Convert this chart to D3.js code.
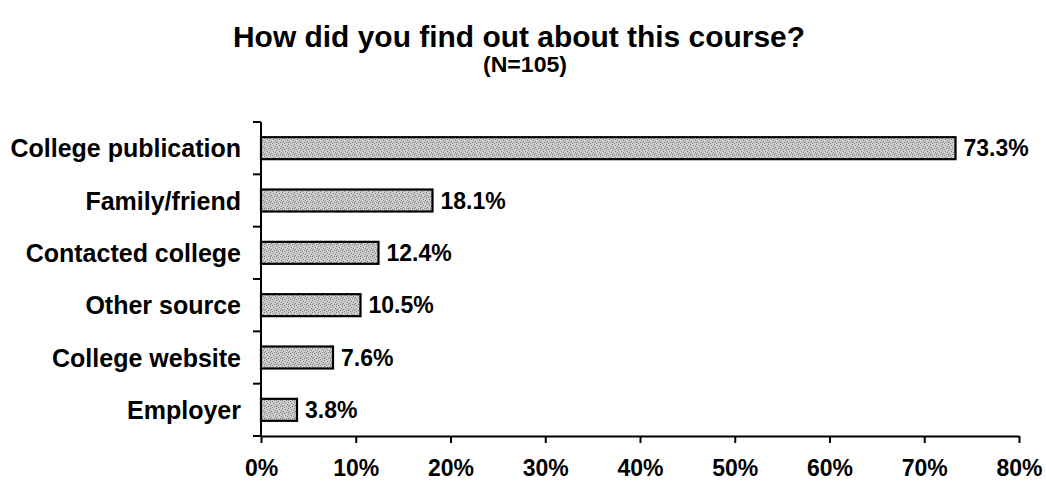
<!DOCTYPE html>
<html>
<head>
<meta charset="utf-8">
<script src="https://cdn.jsdelivr.net/npm/d3@7"></script>
<style>
  html, body { margin: 0; padding: 0; background: #fff; }
  svg { display: block; }
  text { font-family: "Liberation Sans", Arial, sans-serif; font-weight: bold; fill: #000; }
</style>
</head>
<body>
<svg id="chart" width="1046" height="483"></svg>
<script>
const categories = ["College publication", "Family/friend", "Contacted college", "Other source", "College website", "Employer"];
const values = [73.3, 18.1, 12.4, 10.5, 7.6, 3.8];
const valueLabels = ["73.3%", "18.1%", "12.4%", "10.5%", "7.6%", "3.8%"];
const tickValues = [0, 10, 20, 30, 40, 50, 60, 70, 80];
const tickLabels = ["0%", "10%", "20%", "30%", "40%", "50%", "60%", "70%", "80%"];
const titleText = "How did you find out about this course?";
const subtitleText = "(N=105)";

const svg = d3.select("#chart");
const plot = { left: 261, right: 1019, top: 122, bottom: 436 };

// stipple pattern for bars
const defs = svg.append("defs");
const pat = defs.append("pattern")
  .attr("id", "stipple").attr("patternUnits", "userSpaceOnUse")
  .attr("width", 6).attr("height", 6);
pat.append("rect").attr("width", 6).attr("height", 6).attr("fill", "#cdcdcd");
const dots = [[0,0],[3,1],[1,3],[4,4],[5,2],[2,5],[0,4]];
pat.selectAll("rect.d").data(dots).enter().append("rect")
  .attr("class", "d").attr("x", d => d[0]).attr("y", d => d[1])
  .attr("width", 1).attr("height", 1).attr("fill", "#7e7e7e");

const x = d3.scaleLinear().domain([0, 80]).range([plot.left, plot.right]);
const y = d3.scaleBand().domain(categories).range([plot.top, plot.bottom])
  .paddingInner(0.58).paddingOuter(0.29);

// title
svg.append("text").attr("x", 519).attr("y", 47).attr("text-anchor", "middle")
  .attr("font-size", 29).attr("textLength", 572).attr("lengthAdjust", "spacingAndGlyphs")
  .text(titleText);
svg.append("text").attr("x", 525).attr("y", 72).attr("text-anchor", "middle")
  .attr("font-size", 22).attr("textLength", 84).attr("lengthAdjust", "spacingAndGlyphs")
  .text(subtitleText);

// bars
svg.selectAll("rect.bar").data(categories).enter().append("rect")
  .attr("class", "bar")
  .attr("x", x(0))
  .attr("y", d => y(d))
  .attr("width", (d, i) => x(values[i]) - x(0))
  .attr("height", y.bandwidth())
  .attr("fill", "url(#stipple)")
  .attr("stroke", "#000").attr("stroke-width", 2.2);

// value labels
svg.selectAll("text.val").data(categories).enter().append("text")
  .attr("class", "val")
  .attr("x", (d, i) => x(values[i]) + 8)
  .attr("y", d => y(d) + y.bandwidth() / 2)
  .attr("dy", "0.36em")
  .attr("font-size", 23)
  .text((d, i) => valueLabels[i]);

// category labels
svg.selectAll("text.cat").data(categories).enter().append("text")
  .attr("class", "cat")
  .attr("x", 241)
  .attr("y", d => y(d) + y.bandwidth() / 2)
  .attr("dy", "0.36em")
  .attr("text-anchor", "end")
  .attr("font-size", 25)
  .text(d => d);

// y axis line and boundary ticks
const boundaries = d3.range(categories.length + 1).map(i => plot.top + i * y.step());
svg.append("line").attr("x1", plot.left).attr("x2", plot.left)
  .attr("y1", plot.top).attr("y2", plot.bottom)
  .attr("stroke", "#000").attr("stroke-width", 2);
svg.selectAll("line.yt").data(boundaries).enter().append("line")
  .attr("class", "yt")
  .attr("x1", 253).attr("x2", plot.left)
  .attr("y1", d => d).attr("y2", d => d)
  .attr("stroke", "#000").attr("stroke-width", 2);

// x axis
const xAxis = d3.axisBottom(x).tickValues(tickValues)
  .tickSize(7).tickSizeOuter(0)
  .tickFormat((d, i) => tickLabels[i]);
const gx = svg.append("g").attr("transform", `translate(0,${plot.bottom})`).call(xAxis);
gx.select(".domain").attr("stroke", "#000").attr("stroke-width", 2);
gx.selectAll(".tick line").attr("stroke", "#000").attr("stroke-width", 2);
gx.selectAll(".tick text")
  .attr("font-family", "Liberation Sans, Arial, sans-serif")
  .attr("font-weight", "bold").attr("font-size", 23)
  .attr("fill", "#000").attr("y", 24).attr("dy", "0.71em");
</script>
</body>
</html>
